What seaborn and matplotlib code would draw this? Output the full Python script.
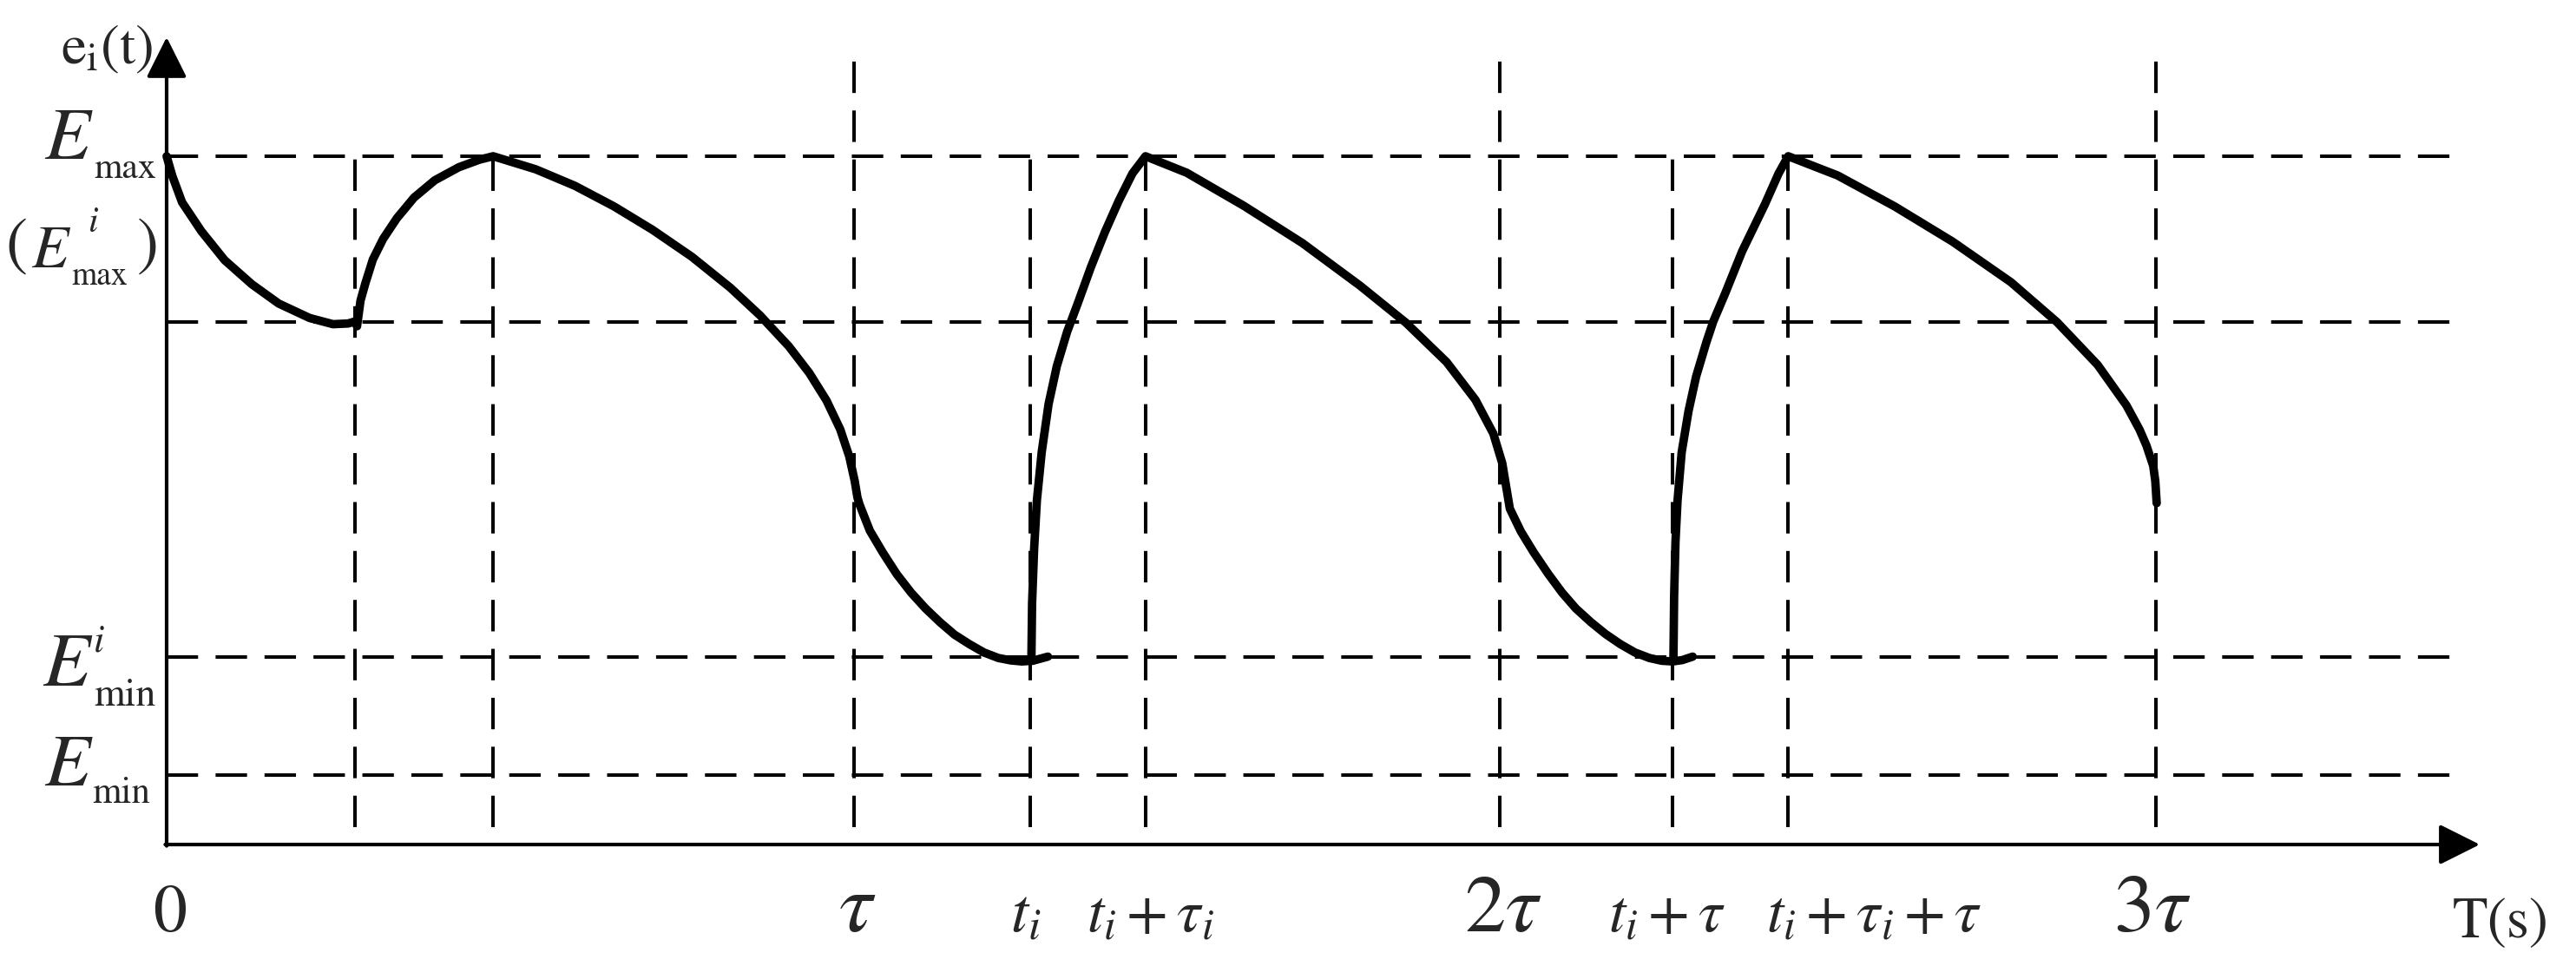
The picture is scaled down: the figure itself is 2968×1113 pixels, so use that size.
import numpy as np
import pandas as pd
import matplotlib
matplotlib.use("Agg")
import matplotlib.pyplot as plt
import seaborn as sns

# --- dados ---
# tempo em unidades onde tau = 100 ; energia em % de Emax
t_short = [27.4, 47.5, 125.6, 142.4, 219.1, 235.9]   # linhas verticais curtas (ate Emax)
t_tall = [100.0, 193.9, 289.4]                      # tau, 2tau, 3tau (sobem acima de Emax)
e_levels = [100.0, 75.9, 27.2, 10.1]                # Emax, nivel medio, Emin^i, Emin

# curva A: 0 -> t_i
seg_a_t = [0, 0.84, 2.25, 5.06, 8.44, 12.4, 16.3, 20.8, 24.2, 26.4, 27.4,
           27.7, 28.2, 28.9, 30.0, 31.5, 33.5, 36.0, 39.0, 42.5, 45.5, 47.5,
           53.7, 59.4, 65.1, 70.7, 76.4, 82.0, 86.3, 90.5, 93.5, 96.0, 98.0, 99.3, 100.1, 100.5,
           100.8, 102.3, 104.2, 106.2, 108.3, 110.4, 112.5, 114.6, 116.8, 118.9, 121.0, 122.8, 124.4, 126.0, 128.2]
seg_a_e = [100, 97.1, 93.3, 89.1, 84.9, 81.4, 78.6, 76.5, 75.6, 75.7, 76.0,
           75.3, 79.0, 81.5, 85.0, 88.0, 91.0, 94.0, 96.5, 98.4, 99.5, 100,
           98.1, 95.7, 92.7, 89.3, 85.4, 80.9, 76.9, 72.4, 68.5, 64.5, 60.3, 56.4, 52.8, 50.4,
           49.4, 45.6, 42.4, 39.3, 36.6, 34.3, 32.3, 30.5, 29.1, 27.9, 27.1, 26.75, 26.6, 26.7, 27.3]

# curva B: t_i -> t_i + tau
seg_b_t = [125.8, 125.9, 126.2, 126.6, 127.3, 128.3, 129.5, 131.0, 132.5, 134.5, 136.5, 138.5, 140.5, 142.4,
           148.4, 156.7, 165.2, 173.6, 180.3, 186.2, 190.4, 193.0, 194.3, 195.0,
           195.4, 197.0, 198.9, 201.0, 203.0, 205.0, 207.2, 209.3, 211.5, 213.6, 215.7, 217.5, 219.1, 220.5, 222.0]
seg_b_e = [26.8, 35, 43, 50, 57, 64, 69.5, 74.5, 78.5, 84, 89, 93.5, 97.5, 100,
           97.6, 92.8, 87.4, 81.2, 75.8, 70.1, 64.6, 59.7, 55.4, 51.2,
           48.8, 45.5, 42.4, 39.3, 36.6, 34.3, 32.3, 30.6, 29.1, 27.9, 27.1, 26.7, 26.6, 26.8, 27.3]

# curva C: t_i + tau -> 3tau
seg_c_t = [219.2, 219.3, 219.5, 219.8, 220.4, 221.4, 222.5, 224.0, 225.0, 226.7, 229.2, 232.5, 234.5, 235.9,
           243.1, 251.4, 259.8, 268.3, 275.0, 280.9, 285.1, 287.0, 288.0, 289.0, 289.3, 289.5]
seg_c_e = [26.8, 36, 44, 50, 57, 63, 68, 73, 76, 80, 86.2, 93, 97.5, 100,
           97.2, 92.7, 87.6, 81.7, 75.9, 69.7, 63.8, 60.3, 58.0, 55.0, 52.8, 49.6]

# rotulos do eixo x
x_lab_pos = [0.5, 100.5, 124.9, 143.1, 194.4, 218.2, 248.4, 288.8]
x_lab_txt = ["0", r"$\tau$", r"$t_{i}$", r"$t_{i}+\tau_{i}$", r"$2\tau$",
             r"$t_{i}+\tau$", r"$t_{i}+\tau_{i}+\tau$", r"$3\tau$"]
x_lab_size = [56, 70, 52, 50, 68, 50, 50, 68]

# rotulos do eixo y, montados em pedacos: (texto, x, y de base, tamanho, italico)
y_lab_parts = [
    ("E", -17.8, 99.6, 62, True), ("max", -10.6, 96.8, 30, False),
    ("(", -23.4, 84.6, 54, False), ("E", -19.7, 83.9, 50, True),
    ("i", -11.4, 89.0, 30, True), ("max", -13.8, 81.3, 27, False), (")", -4.3, 84.6, 54, False),
    ("E", -18.1, 23.1, 64, True), ("i", -10.6, 28.1, 32, True), ("min", -10.6, 20.2, 33, False),
    ("E", -17.8, 8.6, 62, True), ("min", -10.8, 6.1, 31, False),
]

# --- montagem ---
df = pd.concat([
    pd.DataFrame({"t": seg_a_t, "e": seg_a_e, "seg": "A"}),
    pd.DataFrame({"t": seg_b_t, "e": seg_b_e, "seg": "B"}),
    pd.DataFrame({"t": seg_c_t, "e": seg_c_e, "seg": "C"}),
], ignore_index=True)

sns.set_theme(style="white")
plt.rcParams["font.family"] = ["STIXGeneral", "DejaVu Serif"]
plt.rcParams["mathtext.fontset"] = "stix"

fig = plt.figure(figsize=(29.68, 11.13), dpi=100)
ax = fig.add_axes([0, 0, 1, 1])
ax.set_xlim(-24.24, 350.5)
ax.set_ylim(-17.65, 122.7)
ax.axis("off")

dash = (0, (9, 5))
ax.hlines(e_levels, 0, 333.5, colors="black", linewidth=2.9, linestyles=[dash])
ax.vlines(t_short, 2.5, 100.0, colors="black", linewidth=2.9, linestyles=[dash])
ax.vlines(t_tall, 2.5, 114.6, colors="black", linewidth=2.9, linestyles=[dash])

sns.lineplot(data=df, x="t", y="e", units="seg", estimator=None, sort=False,
             color="black", linewidth=7, ax=ax, legend=False,
             solid_joinstyle="round", solid_capstyle="round")

# eixos com setas
arrow = dict(arrowstyle="-|>,head_length=2.9,head_width=1.45", color="black",
             lw=3, mutation_scale=10, shrinkA=0, shrinkB=0)
ax.annotate("", xy=(336.5, 0), xytext=(-0.2, 0), arrowprops=arrow)
ax.annotate("", xy=(0, 117.3), xytext=(0, -0.2), arrowprops=arrow)

# textos
ax.text(-2.0, 115.5, r"e$_{\mathrm{i}}$(t)", fontsize=47, ha="right", va="center")
ax.text(339.5, -13.5, "T(s)", fontsize=48, ha="center", va="baseline")

for x, s, fs in zip(x_lab_pos, x_lab_txt, x_lab_size):
    ax.text(x, -12.6, s, fontsize=fs, ha="center", va="baseline")

for s, x, y, fs, it in y_lab_parts:
    ax.text(x, y, s, fontsize=fs, ha="left", va="baseline",
            style="italic" if it else "normal")

fig.savefig("out.png", dpi=100, facecolor="white")
